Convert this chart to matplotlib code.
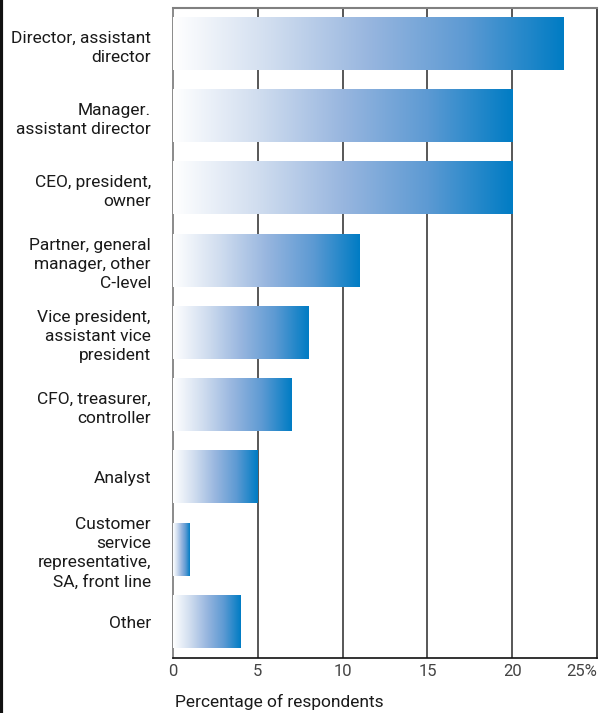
import matplotlib
matplotlib.use("Agg")
import matplotlib.pyplot as plt
import numpy as np
from matplotlib.colors import LinearSegmentedColormap
from matplotlib.lines import Line2D

categories = [
    "Director, assistant\ndirector",
    "Manager.\nassistant director",
    "CEO, president,\nowner",
    "Partner, general\nmanager, other\nC-level",
    "Vice president,\nassistant vice\npresident",
    "CFO, treasurer,\ncontroller",
    "Analyst",
    "Customer\nservice\nrepresentative,\nSA, front line",
    "Other",
]
values = [23, 20, 20, 11, 8, 7, 5, 1, 4]
xticks = [0, 5, 10, 15, 20, 25]
xticklabels = ["0", "5", "10", "15", "20", "25%"]

plt.rcParams["font.family"] = ["Roboto", "DejaVu Sans"]

cmap = LinearSegmentedColormap.from_list(
    "bar", [(0, "#ffffff"), (0.25, "#d0ddef"), (0.5, "#98b6df"),
            (0.75, "#5d9ad3"), (1, "#007cc4")])
grad = np.linspace(0, 1, 256).reshape(1, -1)

fig = plt.figure(figsize=(6.05, 7.13), dpi=100)
ax = fig.add_axes([0.286, 0.077, 0.701, 0.912])

bar_h = 0.72
for i, v in enumerate(values):
    ax.imshow(grad, cmap=cmap, aspect="auto", interpolation="bicubic",
              extent=(0, v, i + bar_h / 2, i - bar_h / 2), zorder=3)

ax.set_xlim(0, 25)
ax.set_ylim(len(values) - 0.5, -0.5)
ax.set_yticks(range(len(values)))
ax.set_yticklabels(categories, fontsize=12.5, color="#1a1a1a",
                   linespacing=1.35)
ax.set_xticks(xticks)
ax.set_xticklabels(xticklabels, fontsize=12, color="#444444")
ax.get_xticklabels()[-1].set_horizontalalignment("right")
ax.get_xticklabels()[-1].set_x(25.1)
ax.tick_params(length=0, pad=4)
ax.tick_params(axis="y", pad=16)

for x in xticks[1:-1]:
    ax.axvline(x, color="#2a2a2a", lw=1.1, zorder=1)

ax.spines["top"].set_color("#808080")
ax.spines["top"].set_linewidth(1.5)
ax.spines["right"].set_color("#222222")
ax.spines["right"].set_linewidth(1.2)
ax.spines["bottom"].set_color("#111111")
ax.spines["bottom"].set_linewidth(1.2)
ax.spines["left"].set_color("#777777")
ax.spines["left"].set_linewidth(1.2)

ax.set_xlabel("Percentage of respondents", fontsize=12.5, color="#1a1a1a")
ax.xaxis.set_label_coords(0.005, -0.055)
ax.xaxis.label.set_horizontalalignment("left")

fig.add_artist(Line2D([0.002, 0.002], [0, 1], color="#111111", lw=3,
                      transform=fig.transFigure))

fig.savefig("out.png", dpi=100)
